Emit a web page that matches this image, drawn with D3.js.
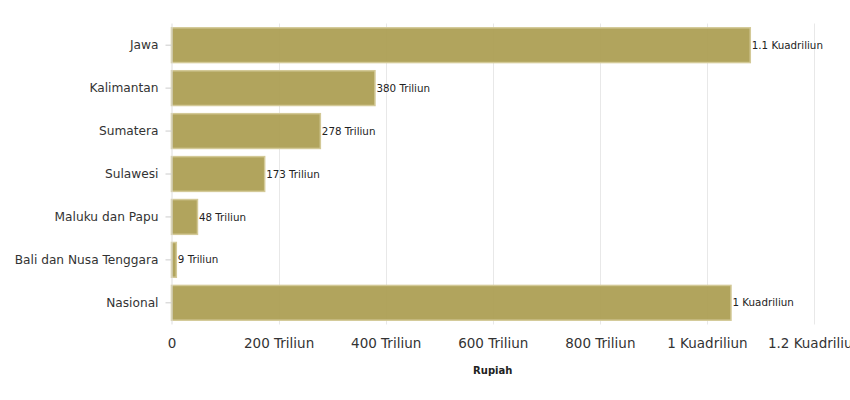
<!DOCTYPE html>
<html lang="id">
<head>
  <meta charset="UTF-8">
  <title>Rupiah per Wilayah</title>
  <script src="https://d3js.org/d3.v7.min.js"></script>
  <style>
    body { margin: 0; background: #fff; }
    text { font-family: "DejaVu Sans", Verdana, sans-serif; }
  </style>
</head>
<body>
<div class="main"></div>
<script>
  // data (values in Triliun)
  var regions = ["Jawa", "Kalimantan", "Sumatera", "Sulawesi", "Maluku dan Papu", "Bali dan Nusa Tenggara", "Nasional"];
  var values = [1081, 380, 278, 174, 48.5, 9, 1045];
  var valueLabels = ["1.1 Kuadriliun", "380 Triliun", "278 Triliun", "173 Triliun", "48 Triliun", "9 Triliun", "1 Kuadriliun"];
  var xTicks = [0, 200, 400, 600, 800, 1000, 1200];
  var xTickLabels = ["0", "200 Triliun", "400 Triliun", "600 Triliun", "800 Triliun", "1 Kuadriliun", "1.2 Kuadriliun"];

  let width = 850, height = 400;
  let plotLeft = 171.5, plotRight = 814, plotTop = 23.5, plotBottom = 324.5;

  let svg = d3.select(".main").append("svg")
          .attr("width", width)
          .attr("height", height)
          .style("display", "block");

  let xScale = d3.scaleLinear().domain([0, 1200]).range([plotLeft, plotRight]);
  let yScale = d3.scaleBand().domain(regions).range([plotTop, plotBottom])
          .paddingInner(0.19).paddingOuter(0.1);

  // gridlines
  svg.append("g").selectAll("line")
          .data(xTicks.slice(1))
          .join("line")
          .attr("x1", d => Math.round(xScale(d)) + 0.5)
          .attr("x2", d => Math.round(xScale(d)) + 0.5)
          .attr("y1", plotTop)
          .attr("y2", plotBottom)
          .style("stroke", "#e8e8e8");

  // bars
  let data = regions.map((r, i) => ({key: r, value: values[i], label: valueLabels[i]}));
  svg.append("g").selectAll("rect")
          .data(data)
          .join("rect")
          .attr("x", xScale(0))
          .attr("y", d => yScale(d.key))
          .attr("width", d => xScale(d.value) - xScale(0))
          .attr("height", yScale.bandwidth())
          .style("fill", "#aa9c4f")
          .style("fill-opacity", 0.92)
          .style("stroke", "#d3c997")
          .style("stroke-width", 1.5);

  // bar labels
  svg.append("g").selectAll("text")
          .data(data)
          .join("text")
          .attr("x", d => xScale(d.value) + 1.5)
          .attr("y", d => yScale(d.key) + yScale.bandwidth() / 2)
          .attr("dy", "0.35em")
          .style("font-size", "10.3px")
          .style("fill", "#222")
          .text(d => d.label);

  // y axis
  let yAxis = d3.axisLeft(yScale).tickSize(6).tickPadding(7);
  let yG = svg.append("g").attr("transform", `translate(${plotLeft},0)`).call(yAxis);
  yG.select(".domain").attr("d", `M0.5,${plotTop}V${plotBottom}`).style("stroke", "#ddd");
  yG.selectAll(".tick line").style("stroke", "#ccc");
  yG.selectAll(".tick text").style("font-size", "12.2px").style("fill", "#333")
          .style("font-family", "'DejaVu Sans', Verdana, sans-serif");

  // x axis
  let xAxis = d3.axisBottom(xScale).tickValues(xTicks)
          .tickFormat((d, i) => xTickLabels[i]).tickSize(0).tickPadding(14);
  let xG = svg.append("g").attr("transform", `translate(0,${plotBottom})`).call(xAxis);
  xG.select(".domain").remove();
  xG.selectAll(".tick text").style("font-size", "13.5px").style("fill", "#333")
          .style("font-family", "'DejaVu Sans', Verdana, sans-serif");

  svg.append("text")
          .attr("x", (plotLeft + plotRight) / 2)
          .attr("y", 374)
          .attr("text-anchor", "middle")
          .style("font-size", "10px")
          .style("font-weight", "bold")
          .style("fill", "#222")
          .text("Rupiah");
</script>
</body>
</html>
